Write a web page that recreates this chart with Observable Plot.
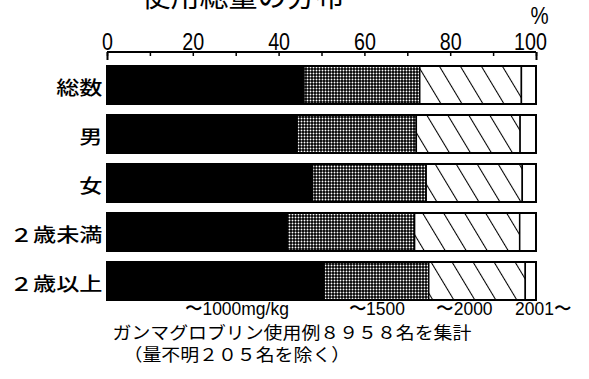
<!DOCTYPE html>
<html><head><meta charset="utf-8">
<script src="https://cdn.jsdelivr.net/npm/d3@7"></script>
<script src="https://cdn.jsdelivr.net/npm/@observablehq/plot@0.6"></script>
<style>
body{margin:0;background:#fff;}
#chart svg{display:block;}
</style></head><body>
<svg width="0" height="0" style="position:absolute">
<defs>
<pattern id="dots" width="3" height="3" patternUnits="userSpaceOnUse">
<rect width="3" height="3" fill="#000"/>
<circle cx="1.5" cy="1.5" r="0.95" fill="#fff"/>
</pattern>
<pattern id="hatch" width="18" height="18" patternUnits="userSpaceOnUse" patternTransform="rotate(-31)">
<rect width="18" height="18" fill="#fff"/>
<line x1="0.5" y1="0" x2="0.5" y2="18" stroke="#000" stroke-width="1.1"/>
</pattern>
</defs>
</svg>
<div id="chart"></div>
<script>
const categories = ["総数", "男", "女", "２歳未満", "２歳以上"];
const seriesNames = ["〜1000mg/kg", "〜1500", "〜2000", "2001〜"];
const upTo1000 = [45.9, 44.3, 47.9, 42.0, 50.6];
const upTo1500 = [27.0, 27.8, 26.5, 29.7, 24.4];
const upTo2000 = [23.7, 24.2, 22.4, 24.5, 22.5];
const over2000 = [3.4, 3.7, 3.2, 3.8, 2.5];
const xTickLabels = [0, 20, 40, 60, 80, 100];
const xMinorTicks = [0, 10, 20, 30, 40, 50, 60, 70, 80, 90, 100];
const unitLabel = "%";
const titleText = "使用総量の分布";
const captionLines = ["ガンマグロブリン使用例８９５８名を集計", "（量不明２０５名を除く）"];

const seriesValues = [upTo1000, upTo1500, upTo2000, over2000];
const rows = categories.flatMap((cat, i) =>
  seriesNames.map((series, j) => ({cat, series, value: seriesValues[j][i]})));

const last = categories.length - 1;
let cum = 0;
const legendRows = seriesNames.map((series, j) => {
  const v = seriesValues[j][last];
  const mid = cum + v / 2;
  cum += v;
  return {series, mid};
});
const legendDx = [21, 0, -13, 12];

const numFont = "Liberation Sans";
const jpFont = "Noto Sans CJK JP";

const plot = Plot.plot({
  width: 589,
  height: 379,
  marginLeft: 107,
  marginRight: 53,
  marginTop: 52,
  marginBottom: 67,
  style: {background: "#fff", color: "#000", fontFamily: jpFont},
  x: {domain: [0, 100], axis: null},
  y: {domain: categories, range: [54, 312], padding: 0.222},
  color: {type: "ordinal", domain: seriesNames, range: ["#000", "url(#dots)", "url(#hatch)", "#fff"]},
  marks: [
    Plot.barX(rows, Plot.stackX({x: "value", y: "cat", fill: "series", order: null, stroke: "#000", strokeWidth: 1.5})),
    Plot.barX(categories, {y: d => d, x1: 0, x2: 100, fill: "none", stroke: "#000", strokeWidth: 2}),
    Plot.axisY({tickSize: 0, tickPadding: 5, fontSize: 19, fontFamily: jpFont, fontWeight: 500, dy: 3, label: null}),
    Plot.barX([0], {x1: 0, x2: 100, fill: "#000", insetTop: -1, insetBottom: 259}),
    Plot.ruleX(xMinorTicks, {x: d => d, insetBottom: 256, stroke: "#000", strokeWidth: 1.5}),
    Plot.ruleX([xMinorTicks[0], xMinorTicks[xMinorTicks.length - 1]], {x: d => d, insetBottom: 252, stroke: "#000", strokeWidth: 2}),
    Plot.text(xTickLabels.slice(0, -1), {x: d => d, text: d => String(d), frameAnchor: "top", lineAnchor: "bottom", dy: -3, fontSize: 24, fontFamily: numFont}),
    Plot.text(xTickLabels.slice(-1), {x: d => d, text: d => String(d), frameAnchor: "top", lineAnchor: "bottom", dy: -3, dx: -6, fontSize: 24, fontFamily: numFont}),
    Plot.text([unitLabel], {x: () => 100, text: d => d, frameAnchor: "top", lineAnchor: "bottom", dy: -29, dx: 3, fontSize: 24, fontFamily: numFont}),
    ...legendRows.map((d, j) => Plot.text([d], {x: "mid", y: () => categories[last], text: "series", dx: legendDx[j], dy: 27, fontSize: 19, fontFamily: numFont})),
    Plot.text([titleText], {frameAnchor: "top", lineAnchor: "bottom", dx: -79, dy: -46, fontSize: 29, fontFamily: jpFont}),
    Plot.text([captionLines[0]], {frameAnchor: "bottom-left", textAnchor: "start", lineAnchor: "bottom", dx: 5, dy: 26, fontSize: 17.5, fontFamily: jpFont}),
    Plot.text([captionLines[1]], {frameAnchor: "bottom-left", textAnchor: "start", lineAnchor: "bottom", dx: 16, dy: 48, fontSize: 17.5, fontFamily: jpFont})
  ]
});

const scaleMap = new Map();
categories.forEach(c => scaleMap.set(c, 1.22));
xTickLabels.forEach(t => scaleMap.set(String(t), 0.82));
seriesNames.forEach(s => scaleMap.set(s, 0.92));
scaleMap.set(unitLabel, 0.85);
captionLines.forEach(s => scaleMap.set(s, 1.08));
plot.querySelectorAll("text").forEach(t => {
  const s = scaleMap.get(t.textContent);
  if (!s) return;
  let tr = t.getAttribute("transform") || "";
  const x = t.getAttribute("x");
  if (x != null && !isNaN(+x)) { tr += ` translate(${x},0)`; t.removeAttribute("x"); }
  t.setAttribute("transform", tr + ` scale(${s},1)`);
});
document.getElementById("chart").appendChild(plot);
</script>
</body></html>
